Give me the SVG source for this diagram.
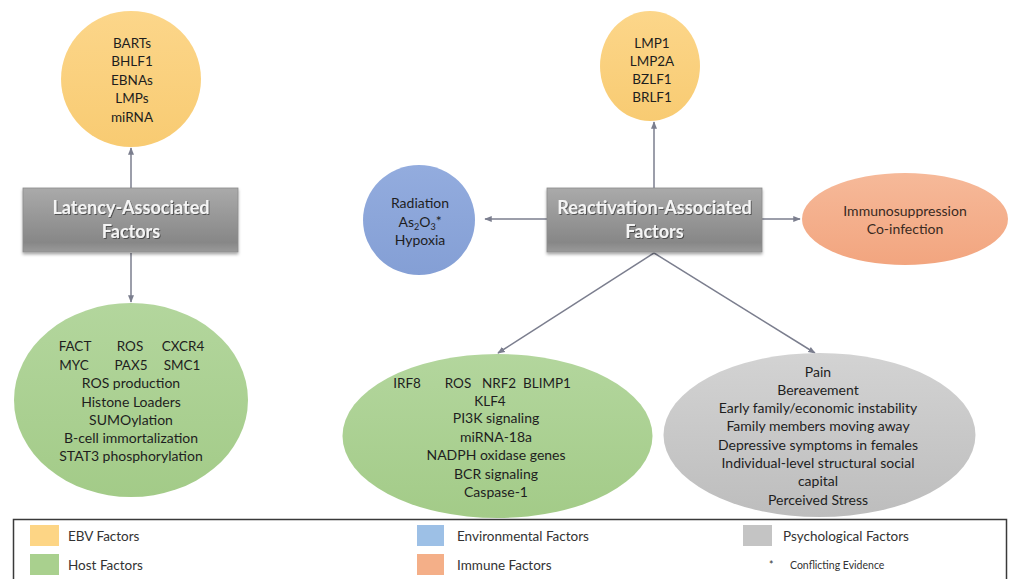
<svg xmlns="http://www.w3.org/2000/svg" width="1010" height="579" viewBox="0 0 1010 579">
<style>
.t{font-family:Lato,"Liberation Sans",sans-serif;font-size:14px;fill:#1E1E1E;text-anchor:middle}
.cap{font-size:13.5px}
.tl{font-family:Lato,"Liberation Sans",sans-serif;font-size:13.5px;fill:#333333}
.ts{font-family:Lato,"Liberation Sans",sans-serif;font-size:10.5px;fill:#333333}
.bt{font-family:Lato,"Liberation Sans",sans-serif;font-size:18px;font-weight:bold;fill:#F4F4F4;text-anchor:middle}
.c{stroke:#7B7E8E;stroke-width:1.5;fill:none;marker-end:url(#ah)}
.box{fill:url(#gBox);stroke:#8C8C8C;stroke-width:0.8}
</style>
<defs>
<marker id="ah" viewBox="0 0 10 10" refX="9" refY="5" markerWidth="5" markerHeight="5" orient="auto" markerUnits="strokeWidth">
<path d="M0,1 L10,5 L0,9 Z" fill="#7B7E8E"/>
</marker>
<linearGradient id="gBox" x1="0" y1="0" x2="0" y2="1">
<stop offset="0" stop-color="#AAAAAA"/><stop offset="0.85" stop-color="#878787"/><stop offset="1" stop-color="#9A9A9A"/>
</linearGradient>
<linearGradient id="gY" x1="0" y1="0" x2="0" y2="1"><stop offset="0" stop-color="#FCD68A"/><stop offset="1" stop-color="#F8CB72"/></linearGradient>
<linearGradient id="gG" x1="0" y1="0" x2="0" y2="1"><stop offset="0" stop-color="#B3D69D"/><stop offset="1" stop-color="#A3CB88"/></linearGradient>
<linearGradient id="gB" x1="0" y1="0" x2="0" y2="1"><stop offset="0" stop-color="#93ACDE"/><stop offset="1" stop-color="#849FD5"/></linearGradient>
<linearGradient id="gO" x1="0" y1="0" x2="0" y2="1"><stop offset="0" stop-color="#F6B999"/><stop offset="1" stop-color="#F2A57F"/></linearGradient>
<linearGradient id="gR" x1="0" y1="0" x2="0" y2="1"><stop offset="0" stop-color="#D3D3D3"/><stop offset="1" stop-color="#BDBDBD"/></linearGradient>
<filter id="sh" x="-10%" y="-10%" width="120%" height="130%">
<feDropShadow dx="0" dy="2" stdDeviation="1.8" flood-color="#000" flood-opacity="0.35"/>
</filter>
<filter id="tsh" x="-5%" y="-20%" width="110%" height="150%">
<feDropShadow dx="1" dy="1" stdDeviation="0.7" flood-color="#333" flood-opacity="0.7"/>
</filter>
</defs>
<rect width="1010" height="579" fill="#FFFFFF"/>

<g id="connectors">
<line class="c" x1="131" y1="188" x2="131" y2="148"/>
<line class="c" x1="131" y1="253" x2="131" y2="302"/>
<line class="c" x1="654" y1="188" x2="654" y2="122"/>
<line class="c" x1="547" y1="219" x2="485" y2="219"/>
<line class="c" x1="762" y1="219" x2="800" y2="219"/>
<line class="c" x1="654" y1="253" x2="498" y2="353"/>
<line class="c" x1="654" y1="253" x2="815" y2="353"/>
</g>

<g id="latency-box">
<rect class="box" x="23" y="188" width="215" height="64" filter="url(#sh)"/>
<text class="bt" filter="url(#tsh)"><tspan x="131" y="214">Latency-Associated</tspan><tspan x="131" y="238">Factors</tspan></text>
</g>

<g id="reactivation-box">
<rect class="box" x="547" y="188" width="215" height="64" filter="url(#sh)"/>
<text class="bt" filter="url(#tsh)"><tspan x="654.5" y="214">Reactivation-Associated</tspan><tspan x="654.5" y="238">Factors</tspan></text>
</g>

<g id="latency-ebv">
<ellipse cx="131" cy="79" rx="70" ry="68" fill="url(#gY)"/>
<text class="t cap"><tspan x="132" y="47.5">BARTs</tspan><tspan x="132" y="66">BHLF1</tspan><tspan x="132" y="84.5">EBNAs</tspan><tspan x="132" y="103">LMPs</tspan><tspan x="132" y="121.5">miRNA</tspan></text>
</g>

<g id="latency-host">
<ellipse cx="131" cy="400" rx="117" ry="97" fill="url(#gG)"/>
<text class="t"><tspan class="cap" x="75" y="351">FACT</tspan><tspan class="cap" x="130" y="351">ROS</tspan><tspan class="cap" x="183" y="351">CXCR4</tspan><tspan class="cap" x="74" y="369.5">MYC</tspan><tspan class="cap" x="131" y="369.5">PAX5</tspan><tspan class="cap" x="182" y="369.5">SMC1</tspan><tspan x="131" y="388">ROS production</tspan><tspan x="131" y="406.5">Histone Loaders</tspan><tspan x="131" y="425">SUMOylation</tspan><tspan x="131" y="443">B-cell immortalization</tspan><tspan x="131" y="461">STAT3 phosphorylation</tspan></text>
</g>

<g id="reactivation-ebv">
<ellipse cx="650" cy="66" rx="50" ry="55" fill="url(#gY)"/>
<text class="t cap"><tspan x="652" y="47.5">LMP1</tspan><tspan x="652" y="65.5">LMP2A</tspan><tspan x="652" y="83.5">BZLF1</tspan><tspan x="652" y="101.5">BRLF1</tspan></text>
</g>

<g id="environmental">
<ellipse cx="419" cy="220" rx="56" ry="55" fill="url(#gB)"/>
<text class="t"><tspan x="420" y="207.5">Radiation</tspan><tspan x="420" y="226.5">As<tspan font-size="9" dy="3">2</tspan><tspan dy="-3">O</tspan><tspan font-size="9" dy="3">3</tspan><tspan dy="-4">*</tspan></tspan><tspan x="420" y="244.5">Hypoxia</tspan></text>
</g>

<g id="immune">
<ellipse cx="905" cy="219" rx="103" ry="46" fill="url(#gO)"/>
<text class="t" style="fill:#3A2A22"><tspan x="905" y="215.5">Immunosuppression</tspan><tspan x="905" y="233.5">Co-infection</tspan></text>
</g>

<g id="reactivation-host">
<ellipse cx="497.5" cy="436" rx="155" ry="82" fill="url(#gG)"/>
<text class="t"><tspan class="cap" x="407" y="387.5">IRF8</tspan><tspan class="cap" x="458" y="387.5">ROS</tspan><tspan class="cap" x="499" y="387.5">NRF2</tspan><tspan class="cap" x="547" y="387.5">BLIMP1</tspan><tspan class="cap" x="490" y="405.5">KLF4</tspan><tspan x="496" y="423">PI3K signaling</tspan><tspan x="496" y="441.5">miRNA-18a</tspan><tspan x="496" y="460">NADPH oxidase genes</tspan><tspan x="496" y="478.5">BCR signaling</tspan><tspan x="496" y="497">Caspase-1</tspan></text>
</g>

<g id="psychological">
<ellipse cx="819.5" cy="435" rx="156" ry="82" fill="url(#gR)"/>
<text class="t"><tspan x="818" y="376.5">Pain</tspan><tspan x="818" y="394.5">Bereavement</tspan><tspan x="818" y="412.5">Early family/economic instability</tspan><tspan x="818" y="431">Family members moving away</tspan><tspan x="818" y="449.5">Depressive symptoms in females</tspan><tspan x="818" y="467.5">Individual-level structural social</tspan><tspan x="818" y="486">capital</tspan><tspan x="818" y="504.5">Perceived Stress</tspan></text>
</g>

<g id="legend">
<rect x="13.5" y="519.5" width="993" height="75" fill="#FFFFFF" stroke="#3A3A3A" stroke-width="1.5"/>
<rect x="30" y="525" width="29" height="21" fill="#FDD585"/>
<text class="tl" x="68" y="540.5">EBV Factors</text>
<rect x="30" y="554" width="29" height="21" fill="#A9D08E"/>
<text class="tl" x="68" y="569.5">Host Factors</text>
<rect x="417" y="525" width="27" height="21" fill="#9DC0E6"/>
<text class="tl" x="457" y="540.5">Environmental Factors</text>
<rect x="417" y="554" width="27" height="21" fill="#F4AF88"/>
<text class="tl" x="457" y="569.5">Immune Factors</text>
<rect x="743" y="525" width="29" height="21" fill="#C4C4C4"/>
<text class="tl" x="783" y="540.5">Psychological Factors</text>
<text class="ts" x="769" y="569">*</text>
<text class="ts" x="790" y="569">Conflicting Evidence</text>
</g>
</svg>
